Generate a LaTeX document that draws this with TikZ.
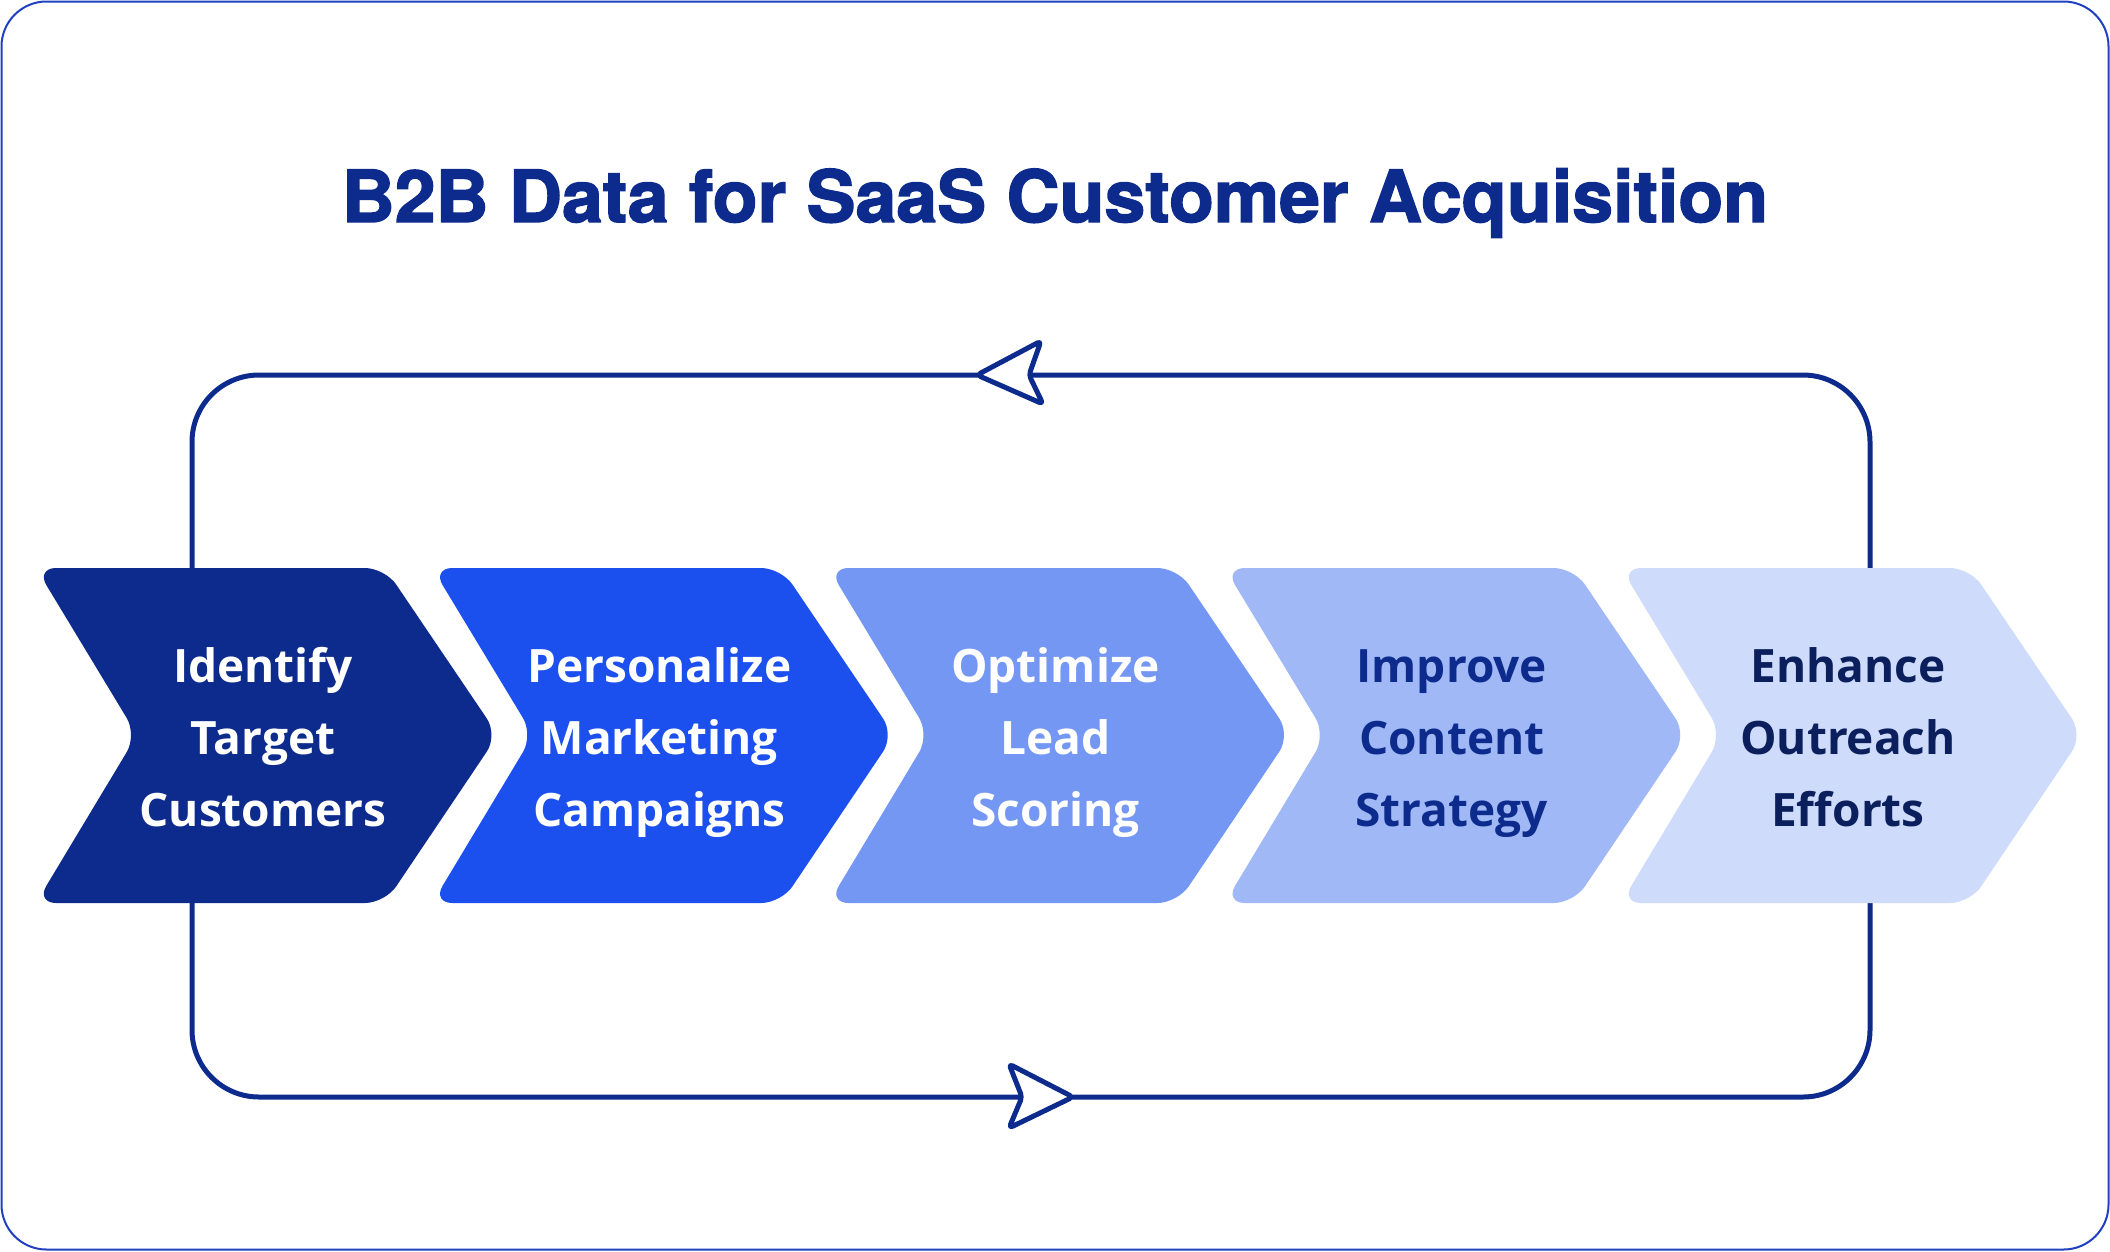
\documentclass[tikz,border=0pt]{standalone}
\usepackage{fontspec}
\setmainfont{Open Sans}
\newfontfamily\titlefont{TeX Gyre Heros}[FakeStretch=1.02, BoldFeatures={FakeBold=2}]
\usetikzlibrary{calc}
\definecolor{navy}{HTML}{0D2B8D}
\definecolor{darknavy}{HTML}{0B1F5C}
\definecolor{cA}{HTML}{0D2B8D}
\definecolor{cB}{HTML}{1C50EE}
\definecolor{cC}{HTML}{7497F3}
\definecolor{cD}{HTML}{A0B9F6}
\definecolor{cE}{HTML}{CEDBFB}
\definecolor{frame}{HTML}{2040C0}
\tikzset{
  chev/.style={rounded corners=20pt},
  steptext/.style={align=center, font=\fontsize{46}{72}\selectfont\bfseries, inner sep=0pt},
  loopline/.style={draw=navy, line width=5pt},
  arrowhd/.style={draw=navy, fill=white, line width=5pt, line join=round, rounded corners=4pt},
}
\newcommand{\chevronshape}[2]{%
  \fill[chev,#2] (#1+170,568) -- (#1+340,568) -- (#1+453,735) -- (#1+340,903) -- (#1-9,903) -- (#1+92,735) -- (#1-9,568) -- cycle;}
\begin{document}
\begin{tikzpicture}[x=1pt,y=-1pt]
\useasboundingbox (0,0) rectangle (2110,1251);
\draw[frame, line width=2pt, rounded corners=45pt] (1.5,1.5) rectangle (2108.5,1249.5);
\node[font=\titlefont\fontsize{72}{80}\selectfont\bfseries, text=navy, anchor=base] (title) at (1055,222) {B2B Data for SaaS Customer Acquisition};
% loop
\coordinate (lt) at (192,375);
\coordinate (rb) at (1870,1097);
\draw[loopline, rounded corners=67pt] (lt) rectangle (rb);
% arrowheads
\draw[arrowhd] (977,375) -- (1041,341) -- (1029,375) -- (1043,404) -- cycle;
\draw[arrowhd] (1073,1097) -- (1009,1064) -- (1022,1097) -- (1009,1128) -- cycle;
% chevrons
\chevronshape{45}{cA}
\chevronshape{441.25}{cB}
\chevronshape{837.5}{cC}
\chevronshape{1233.75}{cD}
\chevronshape{1630}{cE}
\node[steptext, text=white] (s1) at (263,740) {\strut Identify\\Target\\Customers\strut};
\node[steptext, text=white] (s2) at (659.25,740) {\strut Personalize\\Marketing\\Campaigns\strut};
\node[steptext, text=white] (s3) at (1055.5,740) {\strut Optimize\\Lead\\Scoring\strut};
\node[steptext, text=navy] (s4) at (1451.75,740) {\strut Improve\\Content\\Strategy\strut};
\node[steptext, text=darknavy] (s5) at (1848,740) {\strut Enhance\\Outreach\\Efforts\strut};
\end{tikzpicture}
\end{document}
